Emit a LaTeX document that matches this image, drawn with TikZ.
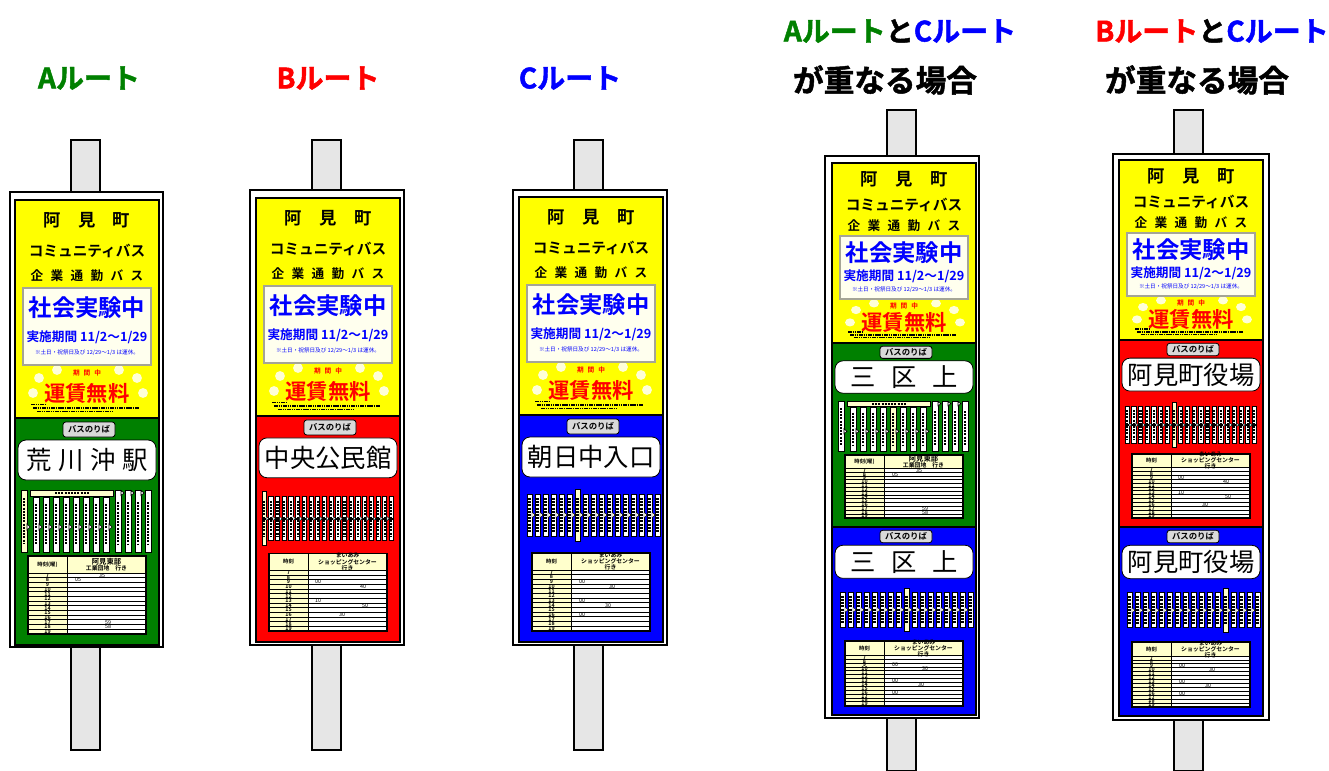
\documentclass[tikz,border=0pt]{standalone}
\usepackage{fontspec}
\setmainfont{Noto Sans CJK JP}[BoldFont={Noto Sans CJK JP Bold}]
\newfontfamily\heavyfont{Noto Sans CJK JP Bold}[FakeBold=1.6]

\definecolor{routeA}{RGB}{0,128,0}
\definecolor{routeB}{RGB}{255,0,0}
\definecolor{routeC}{RGB}{0,0,255}
\definecolor{signyellow}{RGB}{255,255,0}
\definecolor{cream}{RGB}{255,255,204}
\definecolor{polegray}{RGB}{230,230,230}
\definecolor{tabgray}{RGB}{217,217,217}
\definecolor{boxgray}{RGB}{165,165,150}
\definecolor{boxwhite}{RGB}{255,255,238}
\definecolor{dotyellow}{RGB}{255,255,215}

\tikzset{
  polebar/.style={fill=polegray, draw=black, line width=0.8pt},
  signframe/.style={fill=white, draw=black, line width=0.9pt},
  panelline/.style={draw=black, line width=1.4pt},
  tabbox/.style={fill=tabgray, draw=black, line width=0.6pt, rounded corners=2pt},
  namebox/.style={fill=white, draw=black, line width=0.6pt, rounded corners=6pt},
  stopbar/.style={draw=black, line width=0.5pt},
  textmarks/.style={line width=2pt, dash pattern=on 1.5pt off 0.9pt},
  smallprint/.style={line width=1.1pt, dash pattern=on 1.2pt off 0.5pt},
  ttline/.style={line width=0.7pt},
  head/.style={inner sep=0pt, font=\heavyfont\fontsize{21}{21}\selectfont},
  headtwo/.style={inner sep=0pt, font=\heavyfont\fontsize{23}{23}\selectfont},
  yellowtext/.style={inner sep=0pt, font=\bfseries\fontsize{#1}{#1}\selectfont},
  station/.style={inner sep=0pt, font=\fontsize{19}{19}\selectfont},
  tabtext/.style={inner sep=0pt, font=\bfseries\fontsize{6.3}{6.3}\selectfont},
  hour/.style={inner sep=0pt, font=\bfseries\fontsize{4}{4}\selectfont},
  entry/.style={inner sep=0pt, font=\fontsize{4}{4}\selectfont},
  ttlabel/.style={inner sep=0pt, font=\bfseries\fontsize{4}{4}\selectfont},
  tthead/.style={inner sep=0pt, align=center, font=\bfseries\fontsize{4.4}{4.6}\selectfont},
}

% yellow top panel: prefix, x, y, yscale
\newcommand{\yellowpanel}[4]{%
\begin{scope}[shift={(#2,#3)},yscale=#4]
  \fill[signyellow] (0,0) rectangle (144,218);
  \foreach \dx/\dy in {24/178,42/170,104/170,122/178,18/193,128/193}
    \fill[dotyellow] (\dx,\dy) circle [radius=3.7pt];
  \node[yellowtext=13] (#1town) at (72,20) {阿　見　町};
  \node[yellowtext=11] (#1bus) at (72,51) {コミュニティバス};
  \node[yellowtext=9.5] (#1work) at (72,76) {企\hspace{5.5pt}業\hspace{5.5pt}通\hspace{5.5pt}勤\hspace{5.5pt}バ\hspace{5.5pt}ス};
  \draw[fill=boxwhite, draw=boxgray, line width=1.3pt] (8,88) rectangle (136,165);
  \node[yellowtext=17.5, text=routeC] (#1trial) at (72,108) {社会実験中};
  \node[yellowtext=9.5, text=routeC] (#1period) at (72,137) {実施期間 11/2～1/29};
  \node[inner sep=0pt, text=routeC, font=\fontsize{4.2}{4.2}\selectfont] (#1note) at (72,153) {※土日・祝祭日及び 12/29～1/3 は運休。};
  \node[yellowtext=5, text=routeB] (#1free) at (72,173) {期\hspace{3pt}間\hspace{3pt}中};
  \node[yellowtext=16, text=routeB] (#1fare) at (72,193) {運賃無料};
  \draw[smallprint] (16,204.5) -- (30,204.5);
  \draw[smallprint] (18,208) -- (124,208);
  \draw[smallprint] (22,211.5) -- (98,211.5);
  \draw[panelline] (0,0) rectangle (144,218);
\end{scope}}

% route A: prefix, highlighted stop
\newcommand{\routediagA}[2]{%
  \draw[stopbar,fill=cream] (15,72) rectangle (98,78);
  \draw[textmarks,line width=1.2pt] (40,75) -- (74,75);
  \ifnum#2=0 \def\barfill{cream}\else\def\barfill{white}\fi
  \draw[stopbar,fill=\barfill] (6,72) rectangle (12,134);
  \draw[textmarks] (9,80) -- (9,126);
  \draw[stopbar,fill=white] (12,106) -- (15,109) -- (12,112) -- cycle;
  \foreach \i in {1,...,8}{%
    \pgfmathsetmacro{\bx}{8+10*\i}
    \ifnum\i=#2 \def\barfill{cream}\else\def\barfill{white}\fi
    \draw[stopbar,fill=\barfill] (\bx,79) rectangle ++(6,55);
    \draw[textmarks] (\bx+3,86) -- (\bx+3,127);
    \draw[stopbar,fill=white] (\bx+6,106) -- (\bx+9,109) -- (\bx+6,112) -- cycle;
  }
  \foreach \i in {9,...,12}{%
    \pgfmathsetmacro{\bx}{10*\i+10}
    \draw[stopbar,fill=white] (\bx,72) rectangle ++(6,62);
    \draw[textmarks] (\bx+3,84) -- (\bx+3,126);
    \ifnum\i<12 \draw[stopbar,fill=white] (\bx+6,72.5) -- (\bx+9,75) -- (\bx+6,77.5) -- cycle;\fi
  }
}

% route B: prefix, highlighted stop
\newcommand{\routediagB}[2]{%
  \foreach \i in {0,...,19}{%
    \pgfmathsetmacro{\bx}{6+6.7*\i}
    \ifnum\i=#2 \draw[stopbar,fill=cream] (\bx,76) rectangle ++(4.2,54);
    \else \draw[stopbar,fill=white] (\bx,81) rectangle ++(4.2,44);\fi
    \draw[textmarks,line width=1.6pt] (\bx+2.1,85) -- (\bx+2.1,121);
  }
  \draw[line width=1.5pt] (6,103) -- (137,103);
  \foreach \i in {0,...,18}{%
    \pgfmathsetmacro{\bx}{6+6.7*\i}
    \draw[stopbar,fill=white,line width=0.3pt] (\bx+4.2,100.5) -- (\bx+6.5,103) -- (\bx+4.2,105.5) -- cycle;
  }
}

% route C: prefix, highlighted stop
\newcommand{\routediagC}[2]{%
  \foreach \i in {0,...,16}{%
    \pgfmathsetmacro{\bx}{8+8*\i}
    \ifnum\i=#2 \draw[stopbar,fill=cream] (\bx,74) rectangle ++(5,52);
    \else \draw[stopbar,fill=white] (\bx,79) rectangle ++(5,42);\fi
    \draw[textmarks,line width=1.8pt] (\bx+2.5,83) -- (\bx+2.5,117);
    \ifnum\i<16 \draw[stopbar,fill=white,line width=0.3pt] (\bx+5,97) -- (\bx+8,100) -- (\bx+5,103) -- cycle;\fi
  }
}

% timetable: prefix, left head, right head, entries
\newcommand{\ttable}[4]{%
  \fill[white] (13,138) rectangle (131,216);
  \fill[cream] (13,138) rectangle (131,155);
  \fill[cream] (13,155) rectangle (52,216);
  \foreach \h [count=\r from 0] in {7,...,19}{%
    \draw[ttline] (13,{155+4.69*\r}) -- (131,{155+4.69*\r});
    \node[hour] (#1h\h) at (32.5,{157.35+4.69*\r}) {\h};
  }
  \foreach \h/\px/\t in {#4}
    \node[entry] (#1e\h) at (\px,{157.35+4.69*(\h-7)}) {\t};
  \draw[ttline] (52,138) -- (52,216);
  \draw[line width=1.3pt] (13,138) rectangle (131,216);
  \node[ttlabel] (#1left) at (32.5,146.5) {#2};
  \node[tthead] (#1dest) at (91.5,146.5) {#3};
}
\newcommand{\timetableA}[1]{\ttable{#1}{時刻(曜)}{\fontsize{5.5}{5.8}\selectfont 阿見東部\\工業団地　行き}{7/87/35,8/63/05,17/93/59,18/93/58}}
\newcommand{\timetableB}[1]{\ttable{#1}{時刻}{まいあみ\\ショッピングセンター\\行き}{9/62/00,10/107/40,13/62/10,14/109/50,16/86/30}}
\newcommand{\timetableC}[1]{\ttable{#1}{時刻}{まいあみ\\ショッピングセンター\\行き}{9/63/00,10/93/30,13/63/00,14/89/30,16/63/00}}

% stop board: prefix, x, y, yscale, name, route, highlighted stop
\newcommand{\boardpanel}[7]{%
\begin{scope}[shift={(#2,#3)},yscale=#4]
  \fill[route#6] (0,0) rectangle (144,227);
  \draw[tabbox] (48,4) rectangle (100,19);
  \node[tabtext] (#1tab) at (74,11.5) {バスのりば};
  \draw[namebox] (3,22) rectangle (141,62);
  \node[station] (#1name) at (72,42) {#5};
  \csname routediag#6\endcsname{#1}{#7}
  \csname timetable#6\endcsname{#1}
  \draw[panelline] (0,0) rectangle (144,227);
\end{scope}}

\begin{document}
\begin{tikzpicture}[x=0.75pt,y=-0.75pt]
\useasboundingbox (0,0) rectangle (1329,771);

% headings
\node[head, text=routeA] (headA) at (89,78) {Aルート};
\node[head, text=routeB] (headB) at (328,78) {Bルート};
\node[head, text=routeC] (headC) at (570,78) {Cルート};
\node[head] (headAC) at (900,31) {\textcolor{routeA}{Aルート}と\textcolor{routeC}{Cルート}};
\node[headtwo] (headACb) at (885,80) {が重なる場合};
\node[head] (headBC) at (1212,31) {\textcolor{routeB}{Bルート}と\textcolor{routeC}{Cルート}};
\node[headtwo] (headBCb) at (1197,80) {が重なる場合};

% A route stop
\draw[polebar] (71,140) rectangle (100,750);
\draw[signframe] (10,192) rectangle (163,647);
\yellowpanel{a}{15}{200}{1}
\boardpanel{ab}{15}{418}{1}{荒\hspace{5pt}川\hspace{5pt}沖\hspace{5pt}駅}{A}{0}

% B route stop
\draw[polebar] (312,140) rectangle (341,750);
\draw[signframe] (250,190) rectangle (404,645);
\yellowpanel{b}{256}{198}{1}
\boardpanel{bb}{256}{416}{0.996}{中央公民館}{B}{0}

% C route stop
\draw[polebar] (574,140) rectangle (603,750);
\draw[signframe] (513,190) rectangle (667,645);
\yellowpanel{c}{519}{197}{1}
\boardpanel{cb}{519}{415}{1}{朝日中入口}{C}{6}

% A and C
\draw[polebar] (887,110) rectangle (916,771);
\draw[signframe] (825,156) rectangle (979,718);
\yellowpanel{d}{832}{163}{0.826}
\boardpanel{dg}{832}{343}{0.81}{三\hspace{12pt}区\hspace{12pt}上}{A}{5}
\boardpanel{dc}{832}{527}{0.828}{三\hspace{12pt}区\hspace{12pt}上}{C}{8}

% B and C
\draw[polebar] (1174,110) rectangle (1203,771);
\draw[signframe] (1113,154) rectangle (1269,720);
\yellowpanel{e}{1119}{160}{0.826}
\boardpanel{er}{1119}{340}{0.824}{阿見町役場}{B}{7}
\boardpanel{ec}{1119}{527}{0.833}{阿見町役場}{C}{12}
\end{tikzpicture}
\end{document}
